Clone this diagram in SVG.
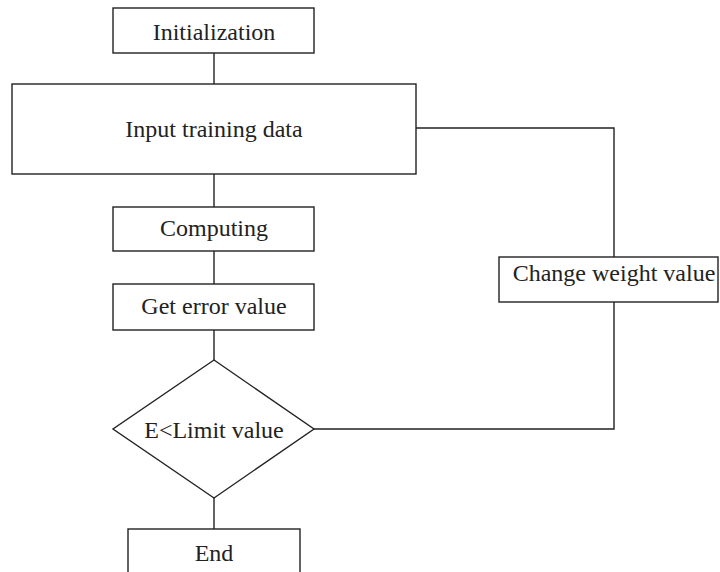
<svg xmlns="http://www.w3.org/2000/svg" width="720" height="572" viewBox="0 0 720 572">
  <style>
    .box { fill: #ffffff; stroke: #222222; stroke-width: 1.4; }
    .wire { fill: none; stroke: #222222; stroke-width: 1.4; }
    .lbl { font-family: "Liberation Serif", "Times New Roman", serif; font-size: 24px; fill: #222222; text-anchor: middle; }
  </style>
  <rect width="720" height="572" fill="#ffffff"/>

  <!-- connectors -->
  <g id="connectors">
    <line class="wire" x1="214" y1="53" x2="214" y2="84"/>
    <line class="wire" x1="214" y1="174" x2="214" y2="207"/>
    <line class="wire" x1="214" y1="251" x2="214" y2="284"/>
    <line class="wire" x1="214" y1="330" x2="214" y2="360"/>
    <line class="wire" x1="214" y1="498" x2="214" y2="529"/>
    <polyline class="wire" points="314,429 614,429 614,302"/>
    <polyline class="wire" points="614,257 614,128 416,128"/>
  </g>

  <g id="init">
    <rect class="box" x="113" y="8" width="201" height="45"/>
    <text class="lbl" x="214" y="40">Initialization</text>
  </g>

  <g id="input">
    <rect class="box" x="12" y="84" width="404" height="90"/>
    <text class="lbl" x="214" y="137">Input training data</text>
  </g>

  <g id="computing">
    <rect class="box" x="113" y="207" width="201" height="44"/>
    <text class="lbl" x="214" y="236">Computing</text>
  </g>

  <g id="error">
    <rect class="box" x="113" y="284" width="201" height="46"/>
    <text class="lbl" x="214" y="314">Get error value</text>
  </g>

  <g id="decision">
    <polygon class="box" points="214,360 314,429 214,498 113,429"/>
    <text class="lbl" x="214" y="438">E&lt;Limit value</text>
  </g>

  <g id="end">
    <rect class="box" x="128" y="529" width="172" height="60"/>
    <text class="lbl" x="214" y="561">End</text>
  </g>

  <g id="change">
    <rect class="box" x="499" y="257" width="219" height="45"/>
    <text class="lbl" x="614" y="281">Change weight value</text>
  </g>
</svg>
